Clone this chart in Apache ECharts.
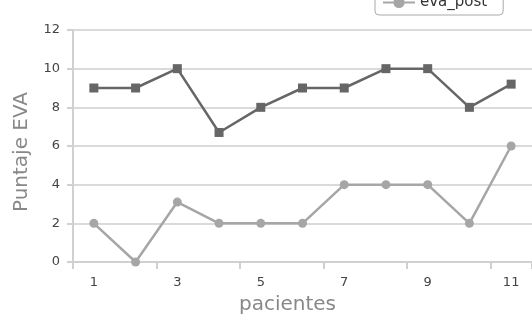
<!DOCTYPE html>
<html><head><meta charset="utf-8">
<script src="https://cdn.jsdelivr.net/npm/echarts@6/dist/echarts.min.js"></script>
<style>html,body{margin:0;padding:0;background:#fff}#c{width:532px;height:322px}</style>
</head><body><div id="c"></div>
<script>
var categories = ['1','2','3','4','5','6','7','8','9','10','11'];
var evaPre = [9, 9, 10, 6.7, 8, 9, 9, 10, 10, 8, 9.2];
var evaPost = [2, 0, 3.1, 2, 2, 2, 4, 4, 4, 2, 6];
var yTicks = [0, 2, 4, 6, 8, 10, 12];

var font = 'DejaVu Sans';
var chart = echarts.init(document.getElementById('c'));
chart.setOption({
  animation: false,
  title: {
    text: 'Puntaje EVA pre y post',
    left: 'center', top: -29,
    textStyle: {fontFamily: font, fontSize: 20, fontWeight: 'bold', color: '#222'}
  },
  legend: {
    orient: 'vertical', left: 375, top: -35,
    data: ['eva_pre', 'eva_post'],
    itemWidth: 32, itemHeight: 14, itemGap: 10, padding: [5, 16, 5, 7],
    borderColor: '#aaa', borderWidth: 1, borderRadius: 4,
    textStyle: {fontFamily: font, fontSize: 15, color: '#333'}
  },
  grid: {left: 73, right: -1, top: 30, bottom: 60, containLabel: false},
  xAxis: {
    type: 'category', data: categories, boundaryGap: true,
    name: 'pacientes', nameLocation: 'middle', nameGap: 33,
    nameTextStyle: {fontFamily: font, fontSize: 20, color: '#888', padding: [0, 30, 0, 0]},
    axisLine: {lineStyle: {color: '#d0d0d0', width: 2}},
    axisTick: {show: true, length: 7, alignWithLabel: false, lineStyle: {color: '#d0d0d0', width: 2}},
    axisLabel: {interval: 1, margin: 14, fontFamily: font, fontSize: 13, color: '#444'},
    splitLine: {show: false}
  },
  yAxis: {
    type: 'value', min: 0, max: 12, interval: 2,
    name: 'Puntaje EVA', nameLocation: 'middle', nameGap: 41,
    nameTextStyle: {fontFamily: font, fontSize: 20, color: '#888', padding: [0, 12, 0, 0]},
    axisLine: {show: true, lineStyle: {color: '#d0d0d0', width: 2}},
    axisTick: {show: true, length: 6, lineStyle: {color: '#d0d0d0', width: 2}},
    axisLabel: {margin: 13, fontFamily: font, fontSize: 13, color: '#444',
      formatter: function (v) { return yTicks.indexOf(v) >= 0 ? String(v) : ''; }},
    splitLine: {lineStyle: {color: '#dadada', width: 2}}
  },
  series: [
    {name: 'eva_pre', type: 'line', data: evaPre, symbol: 'rect', symbolSize: 9,
     color: '#666666', lineStyle: {width: 2.5, color: '#666666'}, itemStyle: {color: '#666666'}},
    {name: 'eva_post', type: 'line', data: evaPost, symbol: 'circle', symbolSize: 9,
     color: '#a6a6a6', lineStyle: {width: 2.5, color: '#a6a6a6'}, itemStyle: {color: '#a6a6a6'}}
  ]
});
</script></body></html>
